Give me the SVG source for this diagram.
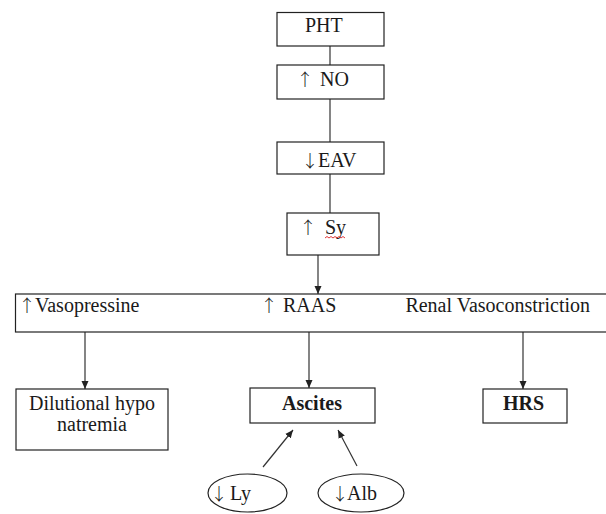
<svg xmlns="http://www.w3.org/2000/svg" width="606" height="514" viewBox="0 0 606 514">
<style>
  .box { fill: #fff; stroke: #222; stroke-width: 1.2; }
  .ln { fill: none; stroke: #333; stroke-width: 1.2; }
  .t { font-family: "Liberation Serif", "Times New Roman", serif; font-size: 20px; fill: #1a1a1a; }
  .b { font-weight: bold; }
  .ar { font-family: "Noto Sans CJK JP", "DejaVu Sans", sans-serif; font-size: 17px; font-weight: 300; }
</style>
<defs>
  <marker id="ah" markerWidth="9" markerHeight="8" refX="8" refY="4" orient="auto" markerUnits="userSpaceOnUse">
    <path d="M0,0.5 L8,4 L0,7.5 z" fill="#222"/>
  </marker>
</defs>
<rect width="606" height="514" fill="#fff"/>
<g id="connectors">
  <line class="ln" x1="330" y1="46" x2="330" y2="65"/>
  <line class="ln" x1="330" y1="99" x2="330" y2="142"/>
  <line class="ln" x1="330" y1="174" x2="330" y2="213"/>
  <line class="ln" x1="318" y1="255" x2="318" y2="294" marker-end="url(#ah)"/>
  <line class="ln" x1="85" y1="332" x2="85" y2="389" marker-end="url(#ah)"/>
  <line class="ln" x1="309" y1="332" x2="309" y2="388" marker-end="url(#ah)"/>
  <line class="ln" x1="523" y1="332" x2="523" y2="389" marker-end="url(#ah)"/>
  <line class="ln" x1="263" y1="467" x2="293" y2="430" marker-end="url(#ah)"/>
  <line class="ln" x1="357" y1="466" x2="338" y2="430" marker-end="url(#ah)"/>
</g>
<g id="pht">
  <rect class="box" x="277" y="12.5" width="107" height="33.5"/>
  <text class="t" x="305" y="32">PHT</text>
</g>
<g id="no">
  <rect class="box" x="277" y="65" width="107" height="34"/>
  <text class="t" y="86"><tspan class="ar" x="296.5">↑</tspan><tspan x="320">NO</tspan></text>
</g>
<g id="eav">
  <rect class="box" x="277" y="142" width="107" height="32"/>
  <text class="t" y="167"><tspan class="ar" x="301.5">↓</tspan><tspan x="318">EAV</tspan></text>
</g>
<g id="sy">
  <rect class="box" x="287" y="213" width="92" height="42"/>
  <text class="t" y="234"><tspan class="ar" x="299.5">↑</tspan><tspan x="325">Sy</tspan></text>
  <path d="M325,238 l2,-1.5 l2,1.5 l2,-1.5 l2,1.5 l2,-1.5 l2,1.5 l2,-1.5 l2,1.5 l2,-1.5 l2,1.5" fill="none" stroke="#d22" stroke-width="0.9"/>
</g>
<g id="effects">
  <rect class="box" x="15.5" y="294" width="610" height="38"/>
  <text class="t" y="312"><tspan class="ar" x="18.5">↑</tspan><tspan x="35">Vasopressine</tspan></text>
  <text class="t" y="312"><tspan class="ar" x="260.5">↑</tspan><tspan x="283">RAAS</tspan></text>
  <text class="t" x="590" y="312" text-anchor="end">Renal Vasoconstriction</text>
</g>
<g id="dilutional">
  <rect class="box" x="16" y="389" width="152" height="61"/>
  <text class="t" x="92" y="410" text-anchor="middle">Dilutional hypo</text>
  <text class="t" x="92" y="431" text-anchor="middle">natremia</text>
</g>
<g id="ascites">
  <rect class="box" x="250" y="388" width="125" height="35"/>
  <text class="t b" x="312" y="410" text-anchor="middle">Ascites</text>
</g>
<g id="hrs">
  <rect class="box" x="483" y="389" width="84" height="34"/>
  <text class="t b" x="523.5" y="410" text-anchor="middle">HRS</text>
</g>
<g id="ly">
  <ellipse class="box" cx="247.5" cy="493" rx="39.5" ry="19"/>
  <text class="t" y="500"><tspan class="ar" x="210.5">↓</tspan><tspan x="230">Ly</tspan></text>
</g>
<g id="alb">
  <ellipse class="box" cx="361" cy="493" rx="43" ry="19"/>
  <text class="t" y="500"><tspan class="ar" x="331.5">↓</tspan><tspan x="347">Alb</tspan></text>
</g>
</svg>
